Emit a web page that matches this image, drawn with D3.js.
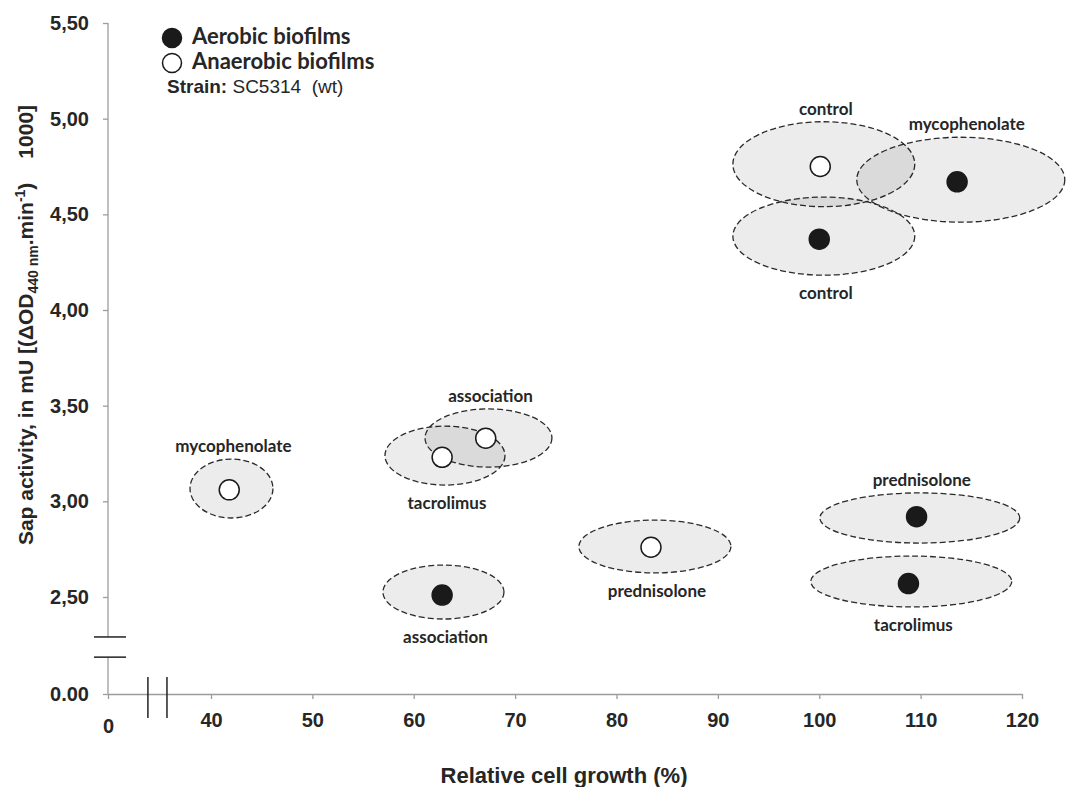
<!DOCTYPE html>
<html>
<head>
<meta charset="utf-8">
<script src="https://cdn.jsdelivr.net/npm/d3@7"></script>
<style>
  html, body { margin: 0; padding: 0; background: #fff; }
  svg { display: block; }
  .ax text { font-family: "Liberation Sans", Arial, sans-serif; font-weight: bold; font-size: 20px; fill: #262626; }
</style>
</head>
<body>
<svg id="chart" width="1066" height="787"></svg>
<script>
// ---------- data ----------
const treatments = ["control", "mycophenolate", "prednisolone", "tacrolimus", "association"];

const aerobicGrowth = [100.0, 113.6, 109.6, 108.8, 62.8];
const aerobicSap    = [4.37, 4.67, 2.92, 2.57, 2.51];
const anaerobicGrowth = [100.1, 41.8, 83.4, 62.8, 67.1];
const anaerobicSap    = [4.75, 3.06, 2.76, 3.23, 3.33];

// dispersion ellipses (centre and half-axes, data units)
const aerobicEllCx = [100.45, 113.96, 109.92, 109.08, 62.93];
const aerobicEllCy = [4.386, 4.681, 2.913, 2.581, 2.526];
const aerobicEllRx = [8.97, 10.26, 9.86, 9.91, 5.97];
const aerobicEllRy = [0.204, 0.222, 0.131, 0.133, 0.141];
const anaerobicEllCx = [100.45, 42.02, 83.79, 63.08, 67.37];
const anaerobicEllCy = [4.762, 3.067, 2.764, 3.239, 3.331];
const anaerobicEllRx = [8.97, 4.09, 7.50, 5.92, 6.26];
const anaerobicEllRy = [0.222, 0.154, 0.138, 0.154, 0.152];

const aerobicLabelSide   = ["below", "above", "above", "below", "below"];
const anaerobicLabelSide = ["above", "above", "below", "below", "above"];

const xTicks = [0, 40, 50, 60, 70, 80, 90, 100, 110, 120];
const xTickLabels = ["0", "40", "50", "60", "70", "80", "90", "100", "110", "120"];
const yTicks = [0, 2.5, 3.0, 3.5, 4.0, 4.5, 5.0, 5.5];
const yTickLabels = ["0.00", "2,50", "3,00", "3,50", "4,00", "4,50", "5,00", "5,50"];
const xBreak = [15.5, 22.9];
const yBreak = [0.95, 1.47];

const legendLabels = ["Aerobic biofilms", "Anaerobic biofilms"];

// ---------- build ----------
const svg = d3.select("#chart");
const x = d3.scaleLinear().domain([0, 40, 120]).range([108, 211, 1022]);
const y = d3.scaleLinear().domain([0, 2.5, 5.5]).range([694, 597, 23]);

const axisColor = "#9c9c9c";
const ink = "#262626";
const labelFont = "Lato, 'Open Sans', sans-serif";

// axes
const gx = svg.append("g").attr("class", "ax").attr("transform", `translate(0,${y(0)})`)
  .call(d3.axisBottom(x).tickValues(xTicks).tickFormat((d, i) => xTickLabels[i]).tickSize(5).tickSizeOuter(0).tickPadding(14));
gx.select(".domain").attr("stroke", axisColor).attr("stroke-width", 1.3);
gx.selectAll(".tick line").attr("stroke", axisColor).attr("stroke-width", 1.3);
gx.selectAll(".tick text").filter(d => d === 0).attr("dy", "1.0em");

const gy = svg.append("g").attr("class", "ax").attr("transform", `translate(${x(0)},0)`)
  .call(d3.axisLeft(y).tickValues(yTicks).tickFormat((d, i) => yTickLabels[i]).tickSize(5).tickSizeOuter(0).tickPadding(14));
gy.select(".domain").remove();
gy.selectAll(".tick line").attr("stroke", axisColor).attr("stroke-width", 1.3);
// y axis line with a gap at the break
gy.append("line").attr("x1", 0).attr("x2", 0).attr("y1", y(5.5)).attr("y2", y(yBreak[1]))
  .attr("stroke", axisColor).attr("stroke-width", 1.3);
gy.append("line").attr("x1", 0).attr("x2", 0).attr("y1", y(yBreak[0])).attr("y2", y(0))
  .attr("stroke", axisColor).attr("stroke-width", 1.3);

// break marks
svg.append("g").selectAll("line").data(yBreak).join("line")
  .attr("x1", x(0) - 14).attr("x2", x(0) + 18)
  .attr("y1", d => y(d)).attr("y2", d => y(d))
  .attr("stroke", "#222").attr("stroke-width", 1.5);
svg.append("g").selectAll("line").data(xBreak).join("line")
  .attr("x1", d => x(d)).attr("x2", d => x(d))
  .attr("y1", y(0) - 17).attr("y2", y(0) + 24)
  .attr("stroke", "#222").attr("stroke-width", 1.5);

// axis titles
svg.append("text")
  .attr("x", 564).attr("y", 783)
  .attr("text-anchor", "middle")
  .style("font-family", "'Liberation Sans', Arial, sans-serif").style("font-weight", "bold")
  .style("font-size", "22px").style("fill", ink)
  .text("Relative cell growth (%)");

const yt = svg.append("text")
  .attr("transform", "translate(33,325) rotate(-90)")
  .attr("text-anchor", "middle")
  .style("font-family", "'Liberation Sans', Arial, sans-serif").style("font-weight", "bold")
  .style("font-size", "21px").style("fill", ink);
yt.append("tspan").text("Sap activity, in mU [(\u0394OD");
yt.append("tspan").attr("dy", 5).style("font-size", "14px").text("440 nm");
yt.append("tspan").attr("dy", -5).text(".min");
yt.append("tspan").attr("dy", -8).style("font-size", "14px").text("-1");
yt.append("tspan").attr("dy", 8).text(")");
yt.append("tspan").attr("dx", 24).text("1000]");

// records
const aerobic = treatments.map((t, i) => ({
  t, type: "aerobic", gx: aerobicGrowth[i], sy: aerobicSap[i],
  cx: aerobicEllCx[i], cy: aerobicEllCy[i], rx: aerobicEllRx[i], ry: aerobicEllRy[i], side: aerobicLabelSide[i]
}));
const anaerobic = treatments.map((t, i) => ({
  t, type: "anaerobic", gx: anaerobicGrowth[i], sy: anaerobicSap[i],
  cx: anaerobicEllCx[i], cy: anaerobicEllCy[i], rx: anaerobicEllRx[i], ry: anaerobicEllRy[i], side: anaerobicLabelSide[i]
}));
const all = anaerobic.concat(aerobic);
const rxPx = d => x(d.cx + d.rx) - x(d.cx);
const ryPx = d => y(d.cy) - y(d.cy + d.ry);

// ellipses
svg.append("g").selectAll("ellipse").data(all).join("ellipse")
  .attr("cx", d => x(d.cx)).attr("cy", d => y(d.cy))
  .attr("rx", rxPx).attr("ry", ryPx)
  .attr("fill", "#000").attr("fill-opacity", 0.075)
  .attr("stroke", "#2a2a2a").attr("stroke-width", 1.3).attr("stroke-dasharray", "6,3");

// labels
svg.append("g").selectAll("text").data(all).join("text")
  .attr("x", d => x(d.cx) + (d.t === "mycophenolate" && d.type === "aerobic" ? 6 : 2))
  .attr("y", d => d.side === "above" ? y(d.cy) - ryPx(d) - 7 : y(d.cy) + ryPx(d) + 24)
  .attr("text-anchor", "middle")
  .style("font-family", labelFont).style("font-weight", "bold").style("font-size", "17px")
  .style("fill", ink)
  .text(d => d.t);

// points
svg.append("g").selectAll("circle").data(all).join("circle")
  .attr("cx", d => x(d.gx)).attr("cy", d => y(d.sy)).attr("r", 10)
  .attr("fill", d => d.type === "aerobic" ? "#1a1a1a" : "#fff")
  .attr("stroke", "#1a1a1a").attr("stroke-width", 1.5);

// legend
const lg = svg.append("g");
lg.selectAll("circle").data(legendLabels).join("circle")
  .attr("cx", 172).attr("cy", (d, i) => 38 + i * 25).attr("r", 9.5)
  .attr("fill", (d, i) => i === 0 ? "#1a1a1a" : "#fff")
  .attr("stroke", "#1a1a1a").attr("stroke-width", 1.5);
lg.selectAll("text").data(legendLabels).join("text")
  .attr("x", 192).attr("y", (d, i) => 44 + i * 25)
  .style("font-family", labelFont).style("font-weight", "bold").style("font-size", "22px")
  .style("fill", ink)
  .text(d => d);
const st = lg.append("text").attr("x", 167).attr("y", 93)
  .style("font-family", "'Liberation Sans', Arial, sans-serif").style("font-size", "19px").style("fill", ink)
  .attr("xml:space", "preserve");
st.append("tspan").style("font-weight", "bold").text("Strain:");
st.append("tspan").text(" SC5314  (wt)");
</script>
</body>
</html>
